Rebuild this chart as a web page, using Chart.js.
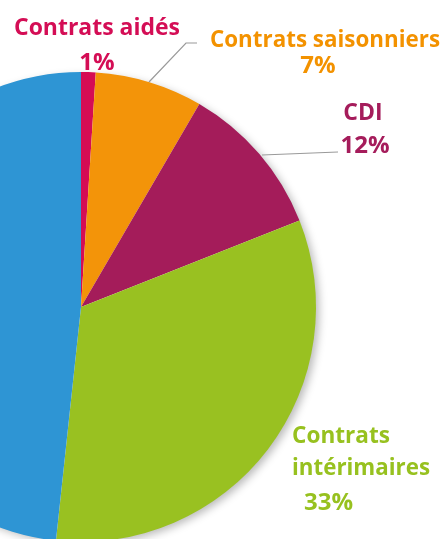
<!DOCTYPE html>
<html lang="fr">
<head>
  <meta charset="UTF-8" />
  <title>Types de contrats</title>
  <script src="https://cdn.jsdelivr.net/npm/chart.js"></script>
  <style>
    html, body { margin: 0; padding: 0; background: #fff; overflow: hidden; width: 444px; height: 539px; }
    #wrap { position: absolute; left: -164px; top: 0; }
  </style>
</head>
<body>
  <div id="wrap"><canvas id="pie" width="608" height="620"></canvas></div>

  <script>
    // parts (sens horaire depuis le haut)
    const categories = ['Contrats aidés', 'Contrats saisonniers', 'CDI', 'Contrats intérimaires', 'CDD'];
    const shares = [1, 7.4, 10.6, 32.7, 48.3];
    const shownPercent = ['1%', '7%', '12%', '33%', ''];
    const colors = ['#d50c54', '#f39409', '#a41c5a', '#99c121', '#2e95d4'];
    const textColors = ['#d40d55', '#f39200', '#a51c5b', '#97c11f', '#2e95d4'];

    const shift = 164; // décalage page -> canvas

    // ombre portée sous le disque
    const pieShadow = {
      id: 'pieShadow',
      beforeDatasetsDraw(chart) {
        const arc = chart.getDatasetMeta(0).data[0];
        const ctx = chart.ctx;
        ctx.save();
        ctx.shadowColor = 'rgba(0,0,0,0.28)';
        ctx.shadowBlur = 9;
        ctx.shadowOffsetX = 4;
        ctx.shadowOffsetY = 3;
        ctx.fillStyle = '#fff';
        ctx.beginPath();
        ctx.arc(arc.x, arc.y, arc.outerRadius - 1, 0, Math.PI * 2);
        ctx.fill();
        ctx.restore();
      }
    };

    // étiquettes et traits de rappel
    const labelsPlugin = {
      id: 'labelsPlugin',
      afterDatasetsDraw(chart) {
        const ctx = chart.ctx;
        ctx.save();
        ctx.translate(shift, 0);

        ctx.strokeStyle = '#9a9a9a';
        ctx.lineWidth = 1.2;
        ctx.beginPath();
        ctx.moveTo(149, 82); ctx.lineTo(186, 43); ctx.lineTo(197, 43);
        ctx.moveTo(262, 155); ctx.lineTo(338, 152);
        ctx.stroke();

        ctx.textBaseline = 'alphabetic';
        const nameFont = 'bold 23px "Open Sans"';
        const pctFont = 'bold 24px "Open Sans"';

        const put = (txt, x, y, col, align, font, w) => {
          ctx.font = font;
          ctx.fillStyle = col;
          ctx.textAlign = align;
          if (w) ctx.fillText(txt, x, y, w);
          else ctx.fillText(txt, x, y);
        };

        put(categories[0], 97, 35, textColors[0], 'center', nameFont, 166);
        put(shownPercent[0], 97, 70, textColors[0], 'center', pctFont);
        put(categories[1], 325, 47, textColors[1], 'center', nameFont, 230);
        put(shownPercent[1], 318, 73, textColors[1], 'center', pctFont);
        put(categories[2], 363, 120, textColors[2], 'center', nameFont);
        put(shownPercent[2], 365, 153, textColors[2], 'center', pctFont);
        const parts = categories[3].split(' ');
        put(parts[0], 292, 443, textColors[3], 'left', nameFont, 98);
        put(parts[1], 292, 475, textColors[3], 'left', nameFont, 138);
        put(shownPercent[3], 304, 510, textColors[3], 'left', pctFont);

        ctx.restore();
      }
    };

    new Chart(document.getElementById('pie'), {
      type: 'pie',
      data: {
        labels: categories,
        datasets: [{
          data: shares,
          backgroundColor: colors,
          borderWidth: 0,
          hoverOffset: 0,
          offset: 0
        }]
      },
      options: {
        responsive: false,
        animation: false,
        events: [],
        layout: { padding: { left: 10, top: 72, right: 128, bottom: 78 } },
        plugins: {
          legend: { display: false },
          tooltip: { enabled: false }
        }
      },
      plugins: [pieShadow, labelsPlugin]
    });
  </script>
</body>
</html>
